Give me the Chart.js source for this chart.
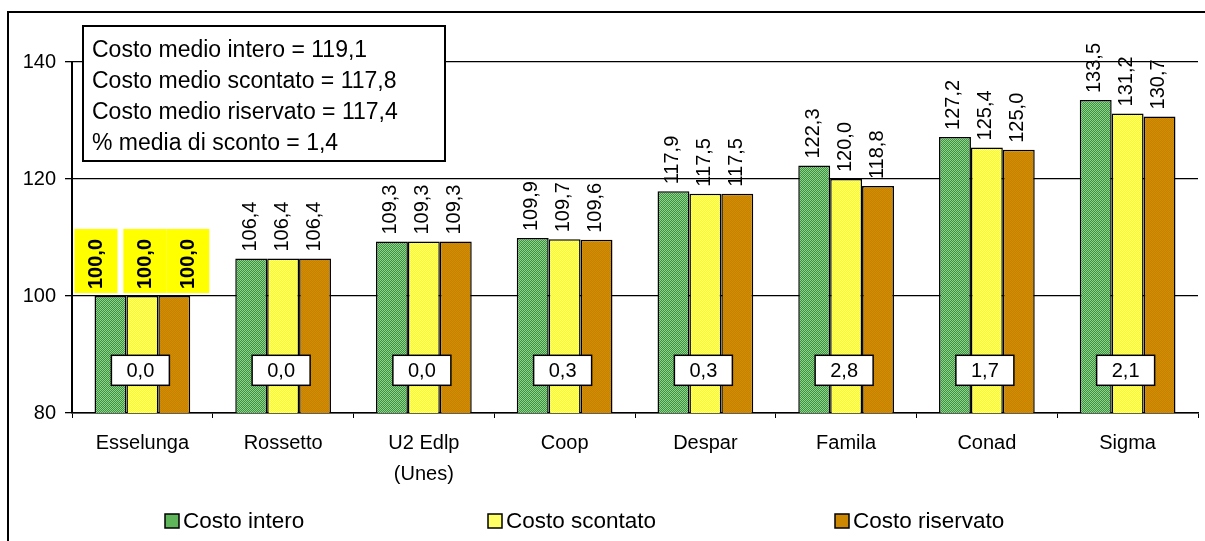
<!DOCTYPE html>
<html>
<head>
<meta charset="utf-8">
<script src="https://cdn.jsdelivr.net/npm/chart.js@4/dist/chart.umd.min.js"></script>
<style>
  html, body { margin: 0; padding: 0; background: #fff; }
  #wrap { width: 1205px; height: 541px; }
</style>
</head>
<body>
<div id="wrap"><canvas id="costChart" width="1205" height="541"></canvas></div>
<script>
const categories = ['Esselunga', 'Rossetto', ['U2 Edlp', '(Unes)'], 'Coop', 'Despar', 'Famila', 'Conad', 'Sigma'];
const costoIntero    = [100.0, 106.4, 109.3, 109.9, 117.9, 122.3, 127.2, 133.5];
const costoScontato  = [100.0, 106.4, 109.3, 109.7, 117.5, 120.0, 125.4, 131.2];
const costoRiservato = [100.0, 106.4, 109.3, 109.6, 117.5, 118.8, 125.0, 130.7];
const scontoPerc     = [0.0, 0.0, 0.0, 0.3, 0.3, 2.8, 1.7, 2.1];
const statLines = [
    'Costo medio intero = 119,1',
    'Costo medio scontato = 117,8',
    'Costo medio riservato = 117,4',
    '% media di sconto = 1,4'
];
const FONT = '"Liberation Sans", Arial, sans-serif';

// dithered fills like the old office patterns
function makePattern(c1, c2) {
    const c = document.createElement('canvas');
    c.width = 2; c.height = 2;
    const g = c.getContext('2d');
    g.fillStyle = c1; g.fillRect(0, 0, 2, 2);
    g.fillStyle = c2; g.fillRect(0, 0, 1, 1); g.fillRect(1, 1, 1, 1);
    return g.createPattern(c, 'repeat');
}
const greenFill = makePattern('#339933', '#99cc99');
const yellowFill = makePattern('#ffff00', '#ffff99');
const brownFill = makePattern('#c08400', '#d88a00');
const swatch = ['#5fb55a', '#ffff66', '#cc8800'];
// the highlighted first-group labels sit a bit spread out
const firstGroupShift = [-15, 2, 13];

const fmt = (v) => v.toFixed(1).replace('.', ',');

const framePlugin = {
    id: 'frame',
    beforeDraw: (chart) => {
        const { ctx } = chart;
        ctx.save();
        ctx.fillStyle = '#fff';
        ctx.fillRect(0, 0, chart.width, chart.height);
        ctx.strokeStyle = '#000';
        ctx.lineWidth = 2;
        ctx.strokeRect(8, 12, chart.width + 20, chart.height + 20);
        ctx.restore();
    }
};

const labelsPlugin = {
    id: 'barLabels',
    afterDatasetsDraw: (chart) => {
        const { ctx } = chart;
        ctx.save();
        // two passes: yellow highlight boxes first, then all the texts
        [0, 1].forEach((pass) => {
            chart.data.datasets.forEach((ds, di) => {
                const meta = chart.getDatasetMeta(di);
                meta.data.forEach((bar, i) => {
                    const txt = fmt(ds.data[i]);
                    const bold = i === 0;
                    if (pass === 0 && !bold) return;
                    ctx.font = (bold ? 'bold ' : '') + '20px ' + FONT;
                    const w = ctx.measureText(txt).width;
                    const dx = bold ? firstGroupShift[di] : -2;
                    ctx.save();
                    ctx.translate(bar.x + dx, bar.y - 7);
                    ctx.rotate(-Math.PI / 2);
                    if (pass === 0) {
                        ctx.fillStyle = '#ffff00';
                        ctx.fillRect(-4, -21, w + 14, 43);
                    } else {
                        ctx.fillStyle = '#000';
                        ctx.textAlign = 'left';
                        ctx.textBaseline = 'middle';
                        ctx.fillText(txt, 0, 1);
                    }
                    ctx.restore();
                });
            });
        });

        // discount boxes
        const xs = chart.scales.x, ys = chart.scales.y;
        const yc = ys.getPixelForValue(87.3);
        ctx.font = '20px ' + FONT;
        ctx.textAlign = 'center';
        ctx.textBaseline = 'middle';
        scontoPerc.forEach((v, i) => {
            const xc = xs.getPixelForValue(i) - 2;
            ctx.fillStyle = '#fff';
            ctx.fillRect(xc - 29, yc - 15, 58, 30);
            ctx.strokeStyle = '#000';
            ctx.lineWidth = 1.5;
            ctx.strokeRect(xc - 29, yc - 15, 58, 30);
            ctx.fillStyle = '#000';
            ctx.fillText(fmt(v), xc, yc + 1);
        });

        // stats box
        ctx.fillStyle = '#fff';
        ctx.fillRect(83, 26, 362, 135);
        ctx.lineWidth = 2;
        ctx.strokeRect(83, 26, 362, 135);
        ctx.fillStyle = '#000';
        ctx.font = '23px ' + FONT;
        ctx.textAlign = 'left';
        statLines.forEach((s, k) => ctx.fillText(s, 92, 51 + k * 31));

        // legend
        const legendX = [165, 488, 835];
        chart.data.datasets.forEach((ds, di) => {
            const x = legendX[di];
            ctx.fillStyle = swatch[di];
            ctx.fillRect(x, 514, 14, 14);
            ctx.lineWidth = 1.5;
            ctx.strokeRect(x, 514, 14, 14);
            ctx.fillStyle = '#000';
            ctx.font = '22.5px ' + FONT;
            ctx.fillText(ds.label, x + 18, 522);
        });
        ctx.restore();
    }
};

new Chart(document.getElementById('costChart'), {
    type: 'bar',
    data: {
        labels: categories,
        datasets: [
            { label: 'Costo intero', data: costoIntero, backgroundColor: greenFill },
            { label: 'Costo scontato', data: costoScontato, backgroundColor: yellowFill },
            { label: 'Costo riservato', data: costoRiservato, backgroundColor: brownFill }
        ]
    },
    options: {
        responsive: false,
        animation: false,
        layout: { padding: { left: 8, top: 62, right: 7, bottom: 0 } },
        datasets: {
            bar: {
                categoryPercentage: 0.68,
                barPercentage: 1,
                borderColor: '#000',
                borderWidth: 1.5,
                borderSkipped: false
            }
        },
        plugins: {
            legend: { display: false },
            tooltip: { enabled: false }
        },
        scales: {
            x: {
                grid: { display: true, drawOnChartArea: false, color: '#000', tickLength: 5, offset: true },
                border: { color: '#000', width: 1.5 },
                ticks: {
                    color: '#000',
                    font: { family: FONT, size: 20, lineHeight: 1.55 },
                    padding: 10,
                    maxRotation: 0
                },
                afterFit: (s) => { s.height = 128; }
            },
            y: {
                min: 80,
                max: 140,
                grid: { color: '#000', lineWidth: 1.3, tickLength: 7 },
                border: { color: '#000', width: 2 },
                ticks: {
                    stepSize: 20,
                    color: '#000',
                    padding: 9,
                    font: { family: FONT, size: 20 }
                },
                afterFit: (s) => { s.width = 64; }
            }
        }
    },
    plugins: [framePlugin, labelsPlugin]
});
</script>
</body>
</html>
